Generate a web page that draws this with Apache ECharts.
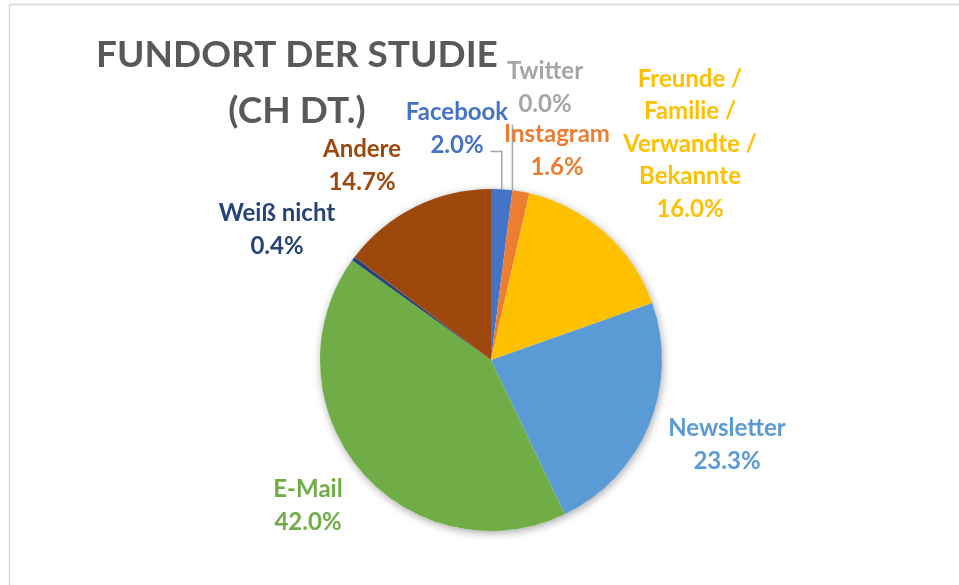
<!DOCTYPE html>
<html>
<head>
<meta charset="utf-8">
<script src="https://cdn.jsdelivr.net/npm/echarts@6/dist/echarts.min.js"></script>
<style>
  html, body { margin: 0; padding: 0; background: #ffffff; }
  #main { width: 959px; height: 585px; }
</style>
</head>
<body>
<div id="main"></div>
<script>
// data (shares in %)
var categories = ['Facebook', 'Twitter', 'Instagram', 'Freunde / Familie / Verwandte / Bekannte', 'Newsletter', 'E-Mail', 'Weiß nicht', 'Andere']
var labelNames = ['Facebook', 'Twitter', 'Instagram', 'Freunde /\nFamilie /\nVerwandte /\nBekannte', 'Newsletter', 'E-Mail', 'Weiß nicht', 'Andere']
var shares = [2.0, 0.0, 1.6, 16.0, 23.3, 42.0, 0.4, 14.7]

var colors = ['#4472C4', '#A5A5A5', '#ED7D31', '#FFC000', '#5B9BD5', '#70AD47', '#264478', '#9E480E']
// where each label block sits (centre), and which one gets a leader line
var labelPos = [[457, 129], [545, 88], [557, 151], [690, 144], [727, 445], [308, 506], [277, 230], [362, 166]]
var leader = ['elbow', 'vertical', null, null, null, null, null, null]
var LINE_H = 32.5

var chart = echarts.init(document.getElementById('main'))

var pieData = []
for (var i = 0; i < categories.length; i++) {
  pieData.push({
    name: categories[i],
    value: shares[i],
    itemStyle: { color: colors[i] },
    label: { color: colors[i] },
    labelLine: { show: !!leader[i] }
  })
}

var option = {
  backgroundColor: '#ffffff',
  animation: false,
  title: {
    text: 'FUNDORT DER STUDIE\n(CH DT.)',
    left: 292,
    top: 22,
    textAlign: 'center',
    textStyle: {
      fontFamily: 'Lato',
      fontWeight: 'bold',
      fontSize: 37,
      lineHeight: 56,
      color: '#595959'
    }
  },
  graphic: [
    { type: 'line', shape: { x1: 9.5, y1: 4.5, x2: 959, y2: 4.5 }, style: { stroke: '#D9D9D9', lineWidth: 1.5 }, silent: true },
    { type: 'line', shape: { x1: 9.5, y1: 4.5, x2: 9.5, y2: 585 }, style: { stroke: '#D9D9D9', lineWidth: 1.5 }, silent: true }
  ],
  series: [
    {
      // soft shadow behind the whole pie
      type: 'pie',
      center: [491, 360],
      radius: 171,
      silent: true,
      z: 1,
      label: { show: false },
      labelLine: { show: false },
      itemStyle: { color: '#ffffff', shadowBlur: 8, shadowColor: 'rgba(0,0,0,0.35)', shadowOffsetX: 1, shadowOffsetY: 2 },
      data: [1]
    },
    {
      type: 'pie',
      center: [491, 360],
      radius: 171,
      startAngle: 90,
      clockwise: true,
      avoidLabelOverlap: false,
      minAngle: 0,
      z: 2,
      data: pieData,
      label: {
        show: true,
        position: 'outside',
        fontFamily: 'Lato',
        fontWeight: 'bold',
        fontSize: 24,
        lineHeight: LINE_H,
        align: 'center',
        formatter: function (p) {
          return labelNames[p.dataIndex] + '\n' + p.value.toFixed(1) + '%'
        }
      },
      labelLine: {
        lineStyle: { color: '#A6A6A6', width: 1.5 }
      },
      labelLayout: function (params) {
        var i = params.dataIndex
        var pos = labelPos[i]
        var out = { x: pos[0], y: pos[1], align: 'center', verticalAlign: 'middle' }
        var lines = labelNames[i].split('\n').length + 1
        var bottom = pos[1] + lines * LINE_H / 2
        var p0 = params.labelLinePoints && params.labelLinePoints[0]
        if (p0 && leader[i] === 'elbow') {
          out.labelLinePoints = [[p0[0], p0[1]], [p0[0], bottom - 10], [p0[0] - 11, bottom - 10]]
        } else if (p0 && leader[i] === 'vertical') {
          out.labelLinePoints = [[p0[0], p0[1]], [p0[0], bottom + 4], [p0[0], bottom + 4]]
        }
        return out
      }
    }
  ]
}

chart.setOption(option)
</script>
</body>
</html>
